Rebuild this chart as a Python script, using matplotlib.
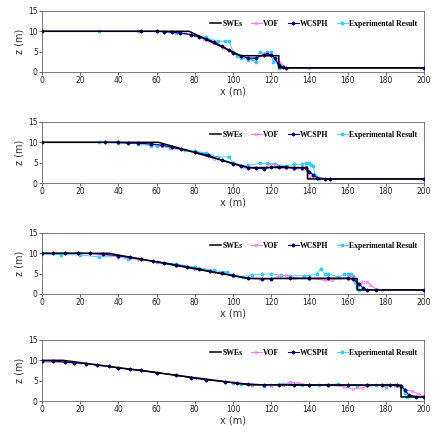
import matplotlib
matplotlib.use("Agg")
import matplotlib.pyplot as plt
import numpy as np

# panel 1
swe1_x = [0, 77, 104, 124, 124, 200]
swe1_z = [10, 10, 4, 4, 1, 1]
vof1_x = [0, 50, 60, 70, 75, 80, 85, 90, 95, 100, 104, 108, 112, 116, 118, 120, 122, 124, 125, 126, 128, 140, 200]
vof1_z = [10, 10, 10, 9.8, 9.5, 9, 8, 7, 6, 5, 4, 3.3, 3.5, 4.5, 4.6, 4.2, 3, 2.5, 2, 1.5, 1, 1, 1]
sph1_x = [0, 52, 60, 64, 68, 72, 78, 82, 86, 90, 94, 98, 100, 104, 108, 112, 116, 118, 120, 122, 124, 126, 128, 200]
sph1_z = [10, 10, 10, 9.9, 9.8, 9.6, 9.2, 8.6, 8.2, 7.4, 6.4, 5.4, 4.6, 4, 3.4, 3.4, 4.2, 4.4, 4.2, 3.4, 1.6, 1.2, 1, 1]
exp1_x = [0, 30, 50, 60, 70, 80, 86, 92, 96, 98, 100, 102, 104, 108, 110, 112, 114, 116, 118, 120, 121, 122, 124]
exp1_z = [10, 10, 10, 10, 9.5, 9, 8.5, 7.5, 7.6, 7.6, 5, 4, 3.5, 3, 3.2, 2.5, 5, 4.5, 5, 4.8, 2.5, 3, 1]

# panel 2
swe2_x = [0, 61, 108, 139, 139, 200]
swe2_z = [10, 10, 3.8, 3.8, 1, 1]
vof2_x = [0, 40, 57, 63, 70, 80, 90, 100, 106, 112, 116, 120, 124, 128, 132, 136, 138, 140, 142, 144, 148, 200]
vof2_z = [10, 10, 9.5, 9.2, 8.5, 7.5, 6, 4.7, 4, 3.6, 3.6, 4.7, 4.2, 3.8, 3.4, 3.5, 4, 1.2, 1.8, 1.3, 1, 1]
sph2_x = [0, 33, 40, 45, 50, 57, 63, 68, 73, 80, 87, 94, 100, 104, 108, 112, 116, 120, 124, 128, 132, 136, 138, 140, 142, 144, 148, 151, 200]
sph2_z = [10, 10, 10, 9.8, 9.8, 9.6, 9.3, 8.8, 8.3, 7.6, 6.9, 5.6, 4.7, 4.2, 3.8, 3.6, 3.5, 3.9, 4, 4, 3.6, 3.8, 3.8, 2.8, 2, 1.3, 1.1, 1, 1]
exp2_x = [0, 30, 40, 50, 57, 60, 67, 75, 80, 86, 92, 98, 100, 104, 108, 114, 118, 122, 128, 132, 136, 138, 140, 141, 142, 143, 145]
exp2_z = [10, 10, 9.8, 9.7, 9.1, 9.2, 8.6, 8.2, 7.8, 7.4, 6.4, 6.4, 5, 4.2, 4.4, 4.8, 4.8, 4.6, 4.2, 4.6, 4.6, 5, 5, 4.5, 4.2, 2, 1]

# panel 3
swe3_x = [0, 35, 108, 165, 165, 200]
swe3_z = [10, 10, 3.8, 3.8, 1, 1]
vof3_x = [0, 20, 30, 40, 50, 60, 70, 80, 90, 100, 108, 114, 120, 124, 128, 132, 140, 148, 152, 156, 160, 162, 166, 168, 170, 172, 175, 178, 200]
vof3_z = [10, 10, 9.7, 9.2, 8.6, 7.8, 7, 6.2, 5.4, 4.6, 3.9, 3.6, 3.6, 4.4, 4.6, 4, 3.8, 3.4, 3.4, 3.9, 3.8, 4.4, 2.5, 3, 3, 2.2, 1.2, 1, 1]
sph3_x = [0, 6, 12, 19, 25, 32, 40, 46, 52, 58, 64, 70, 76, 82, 88, 94, 100, 108, 115, 120, 130, 140, 150, 160, 163, 166, 168, 170, 175, 200]
sph3_z = [10, 10, 10, 10, 10, 9.8, 9.4, 9, 8.6, 8.1, 7.7, 7.2, 6.7, 6.2, 5.6, 5.1, 4.6, 3.9, 3.8, 3.8, 3.9, 3.9, 3.9, 3.9, 3.6, 2.5, 1.5, 1.1, 1, 1]
exp3_x = [0, 10, 20, 30, 40, 45, 50, 60, 70, 80, 90, 95, 97, 100, 105, 110, 115, 120, 125, 130, 137, 140, 144, 146, 148, 150, 155, 158, 160, 162, 163, 164, 165, 166]
exp3_z = [9.8, 9.7, 9.6, 9.1, 9.2, 8.6, 8.6, 7.8, 7.4, 6.6, 5.8, 5.4, 5.4, 4.4, 4.3, 4.7, 4.8, 5, 4.6, 4.5, 4.5, 4.5, 5, 6.2, 5, 5, 4.2, 4.8, 4.8, 5, 4.4, 3, 1.8, 1]

# panel 4
swe4_x = [0, 11, 100, 108, 188, 188, 200]
swe4_z = [10, 10, 4.5, 4, 3.9, 1, 1]
vof4_x = [0, 20, 40, 60, 80, 100, 110, 120, 126, 130, 134, 140, 150, 158, 163, 168, 172, 180, 186, 190, 194, 197, 200]
vof4_z = [9.6, 9.3, 8.1, 7, 5.7, 4.6, 4, 3.8, 4, 4.7, 4.4, 3.9, 3.9, 3.5, 3, 3.3, 4, 3.8, 3.8, 2.8, 2.4, 1.8, 1.2]
sph4_x = [0, 6, 12, 17, 23, 29, 35, 40, 46, 52, 60, 70, 78, 86, 96, 102, 108, 116, 124, 132, 140, 150, 160, 170, 178, 182, 186, 188, 190, 192, 196, 200]
sph4_z = [9.9, 9.8, 9.6, 9.4, 9.2, 8.8, 8.5, 8.1, 7.8, 7.6, 7, 6.3, 5.7, 5.2, 4.7, 4.4, 4.2, 4, 4, 3.9, 3.9, 3.9, 3.9, 3.9, 4, 4, 4, 3.6, 2.8, 1.5, 1.1, 1]
exp4_x = [100, 104, 110, 116, 120, 126, 130, 136, 140, 145, 150, 155, 160, 165, 170, 175, 180, 185, 188, 190, 191]
exp4_z = [4.4, 4.3, 4, 3.7, 4, 4.3, 4.2, 4, 3.9, 4, 4, 4.2, 3.9, 3.8, 3.9, 4, 3.5, 4, 3.5, 2, 1]

panels = [
    (swe1_x, swe1_z, vof1_x, vof1_z, sph1_x, sph1_z, exp1_x, exp1_z),
    (swe2_x, swe2_z, vof2_x, vof2_z, sph2_x, sph2_z, exp2_x, exp2_z),
    (swe3_x, swe3_z, vof3_x, vof3_z, sph3_x, sph3_z, exp3_x, exp3_z),
    (swe4_x, swe4_z, vof4_x, vof4_z, sph4_x, sph4_z, exp4_x, exp4_z),
]
bottoms = [0.839, 0.5906, 0.3423, 0.1029]

fig = plt.figure(figsize=(4.35, 4.47), dpi=100)
for p, b in zip(panels, bottoms):
    ax = fig.add_axes([0.0966, b, 0.878, 0.1365])
    sx, sz, vx, vz, wx, wz, ex, ez = p
    ax.plot(sx, sz, color="black", lw=1.1, label="SWEs", zorder=4)
    ax.plot(vx, vz, color="#ee82ee", lw=0.8, marker="o", ms=2, mfc="none", mew=0.5, label="VOF", zorder=2)
    ax.plot(wx, wz, color="#000080", lw=0.8, marker="D", ms=1.5, label="WCSPH", zorder=3)
    ax.plot(ex, ez, color="#33ccff", lw=0.6, marker="*", ms=2.5, label="Experimental Result", zorder=1)
    ax.set_xlim(0, 200)
    ax.set_ylim(0, 15)
    ax.set_xticks(np.arange(0, 201, 20))
    ax.set_yticks([0, 5, 10, 15])
    ax.tick_params(labelsize=5.5, length=2, width=0.5, pad=1, colors="#222222")
    for s in ax.spines.values():
        s.set_color("#666666")
        s.set_linewidth(0.6)
    ax.set_xlabel("x (m)", fontsize=7, labelpad=1, color="#333333")
    ax.set_ylabel("z (m)", fontsize=7, labelpad=3, color="#333333")
    ax.legend(loc="upper right", ncol=4, frameon=False,
              prop={"family": "Liberation Serif", "weight": "bold", "size": 5.6},
              handlelength=1.4, columnspacing=1.1, handletextpad=0.15,
              bbox_to_anchor=(1.0, 0.97))

fig.savefig("out.png", dpi=100)
